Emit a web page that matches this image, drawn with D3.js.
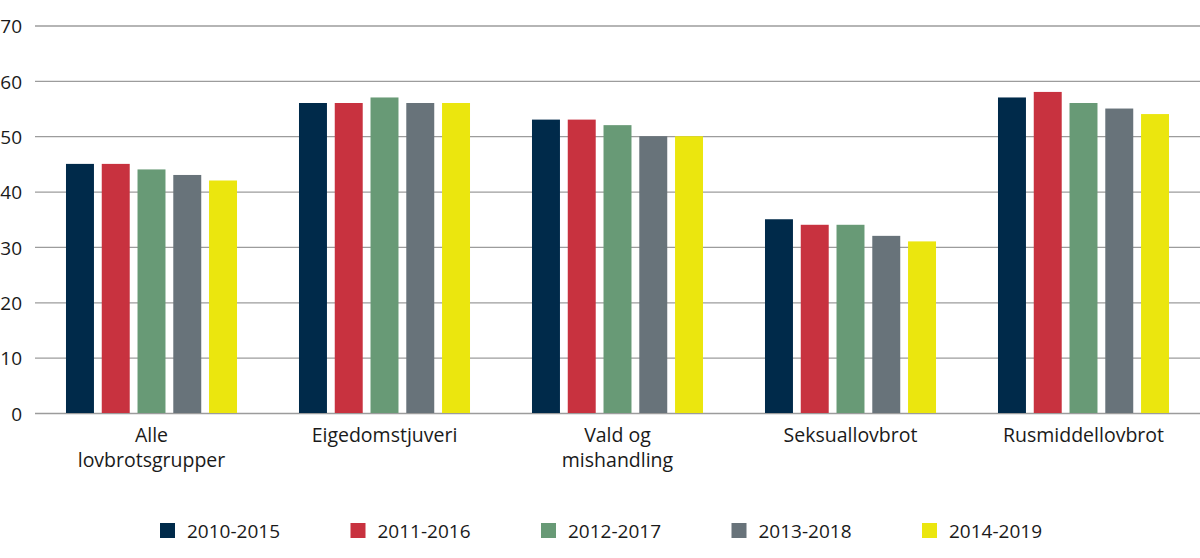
<!DOCTYPE html>
<html><head><meta charset="utf-8">
<script src="https://cdn.jsdelivr.net/npm/d3@7"></script>
<style>body{margin:0;background:#fff;} text{font-family:"Open Sans",sans-serif;fill:#1a1a1a;}</style>
</head><body>
<svg id="c" width="1200" height="558"></svg>
<script>
const categories = [["Alle","lovbrotsgrupper"],["Eigedomstjuveri"],["Vald og","mishandling"],["Seksuallovbrot"],["Rusmiddellovbrot"]];
const series = ["2010-2015","2011-2016","2012-2017","2013-2018","2014-2019"];
const colors = ["#002a4a","#c8323f","#689a76","#68737a","#ebe60e"];
const values = [
  [45,56,53,35,57],
  [45,56,53,34,58],
  [44,57,52,34,56],
  [43,56,50,32,55],
  [42,56,50,31,54]
];
const yTicks = [0,10,20,30,40,50,60,70];

(function(){
const svg = d3.select("#c");
const mLeft = 35, mRight = 1200, mTop = 25.5, mBottom = 413;
const x0 = d3.scaleBand().domain(d3.range(categories.length)).range([mLeft,mRight]).paddingInner(0.266).paddingOuter(0.133);
const x1 = d3.scaleBand().domain(d3.range(series.length)).range([0,x0.bandwidth()]).paddingInner(0.218);
const y = d3.scaleLinear().domain([0,70]).range([mBottom,mTop]);

const yAxis = svg.append("g").attr("transform",`translate(${mLeft},0)`)
  .call(d3.axisLeft(y).tickValues(yTicks).tickSize(-(mRight-mLeft)).tickPadding(13).tickFormat(d3.format("d")));
yAxis.select(".domain").remove();
yAxis.selectAll(".tick line").attr("stroke","#9c9c9c").attr("stroke-width",1.3);
yAxis.selectAll(".tick text").style("font-size","19px").attr("fill","#1a1a1a").attr("dy","0.38em");

const g = svg.append("g");
categories.forEach((c,ci)=>{
  series.forEach((s,si)=>{
    g.append("rect").attr("x",x0(ci)+x1(si)).attr("width",x1.bandwidth())
      .attr("y",y(values[si][ci])).attr("height",y(0)-y(values[si][ci])).attr("fill",colors[si]);
  });
  const t = svg.append("text").attr("text-anchor","middle").style("font-size","19.5px")
    .attr("x",x0(ci)+x0.bandwidth()/2).attr("y",442);
  c.forEach((line,li)=>t.append("tspan").attr("x",x0(ci)+x0.bandwidth()/2).attr("dy",li?24.5:0).text(line));
});

const lg = svg.append("g");
const legX = d3.scalePoint().domain(series).range([160,922]);
series.forEach((s,si)=>{
  lg.append("rect").attr("x",legX(s)).attr("y",523).attr("width",15).attr("height",15).attr("fill",colors[si]);
  lg.append("text").attr("x",legX(s)+27).attr("y",537.5).style("font-size","19px").text(s);
});
})();
</script>
</body></html>
